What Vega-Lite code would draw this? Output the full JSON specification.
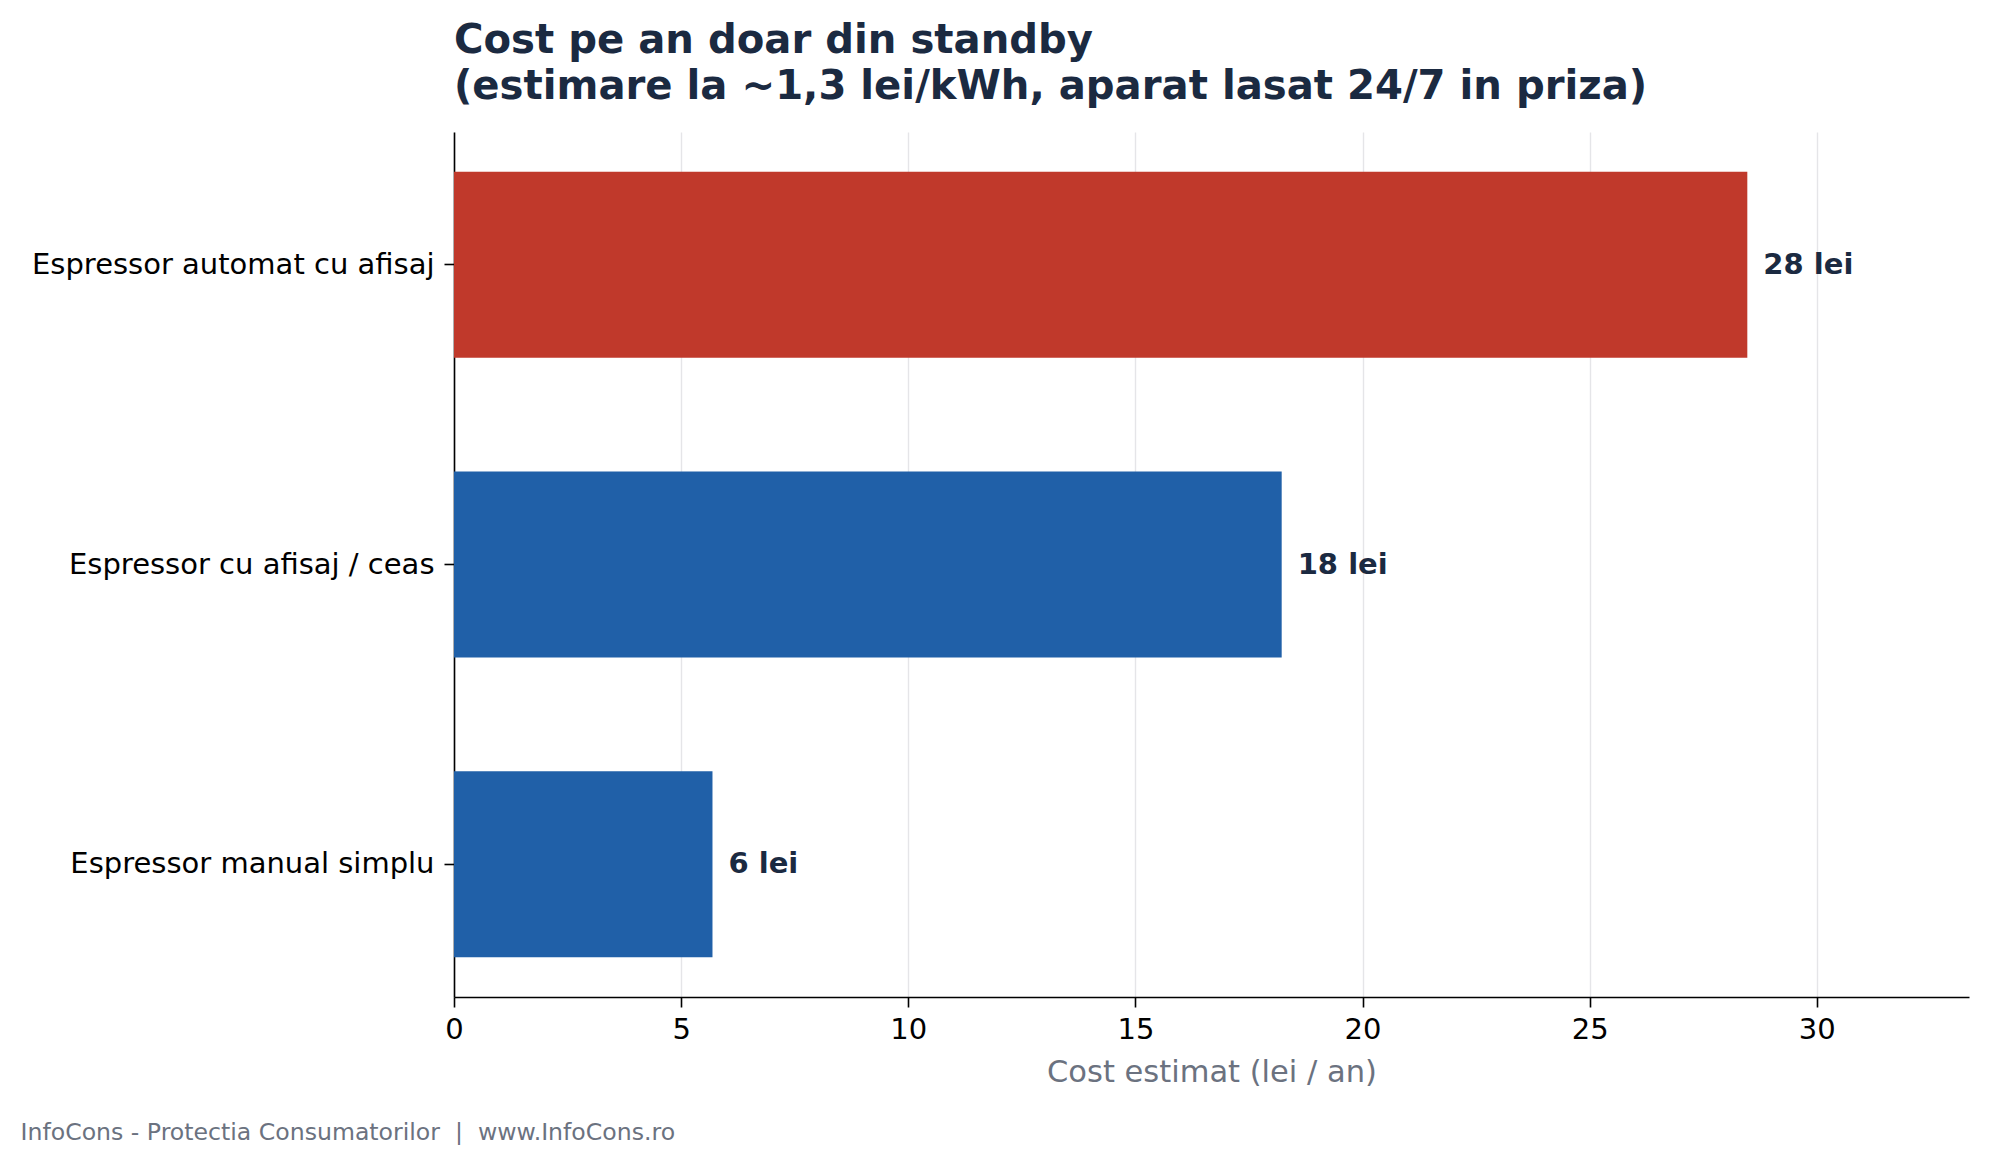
{
  "$schema": "https://vega.github.io/schema/vega-lite/v6.json",
  "background": "white",
  "padding": {"left": 20, "top": 20, "right": 10, "bottom": 10},
  "config": {
    "font": "DejaVu Sans",
    "view": {"stroke": null}
  },
  "title": {
    "text": "InfoCons - Protectia Consumatorilor \u00a0|\u00a0 www.InfoCons.ro",
    "orient": "bottom",
    "anchor": "start",
    "frame": "bounds",
    "fontSize": 23.6,
    "fontWeight": "normal",
    "color": "#6b7280",
    "offset": 33,
    "dx": -11
  },
  "vconcat": [
    {
      "width": 1515,
      "height": 865,
      "title": {
        "text": ["Cost pe an doar din standby", "(estimare la ~1,3 lei/kWh, aparat lasat 24/7 in priza)"],
        "anchor": "start",
        "frame": "group",
        "fontSize": 40.2,
        "fontWeight": "bold",
        "lineHeight": 46,
        "color": "#1b2a41",
        "offset": 25
      },
      "data": {
        "values": [
          {"aparat": "Espressor automat cu afisaj", "cost": 28.47, "eticheta": "28 lei"},
          {"aparat": "Espressor cu afisaj / ceas", "cost": 18.22, "eticheta": "18 lei"},
          {"aparat": "Espressor manual simplu", "cost": 5.69, "eticheta": "6 lei"}
        ]
      },
      "encoding": {
        "y": {
          "field": "aparat",
          "type": "nominal",
          "sort": null,
          "scale": {"paddingInner": 0.38, "paddingOuter": 0.133},
          "axis": {
            "title": null,
            "labelFontSize": 29,
            "labelColor": "black",
            "labelPadding": 10,
            "labelLimit": 700,
            "tickColor": "black",
            "tickSize": 10,
            "tickWidth": 1.6,
            "domainColor": "black",
            "domainWidth": 1.6,
            "grid": false
          }
        },
        "x": {
          "field": "cost",
          "type": "quantitative",
          "scale": {"domain": [0, 33.35], "nice": false},
          "axis": {
            "title": "Cost estimat (lei / an)",
            "titleFontSize": 30.5,
            "titleFontWeight": "normal",
            "titleColor": "#6b7280",
            "titlePadding": 13,
            "values": [0, 5, 10, 15, 20, 25, 30],
            "labelFontSize": 29,
            "labelColor": "black",
            "labelPadding": 8,
            "labelFlush": false,
            "tickColor": "black",
            "tickSize": 10,
            "tickWidth": 1.6,
            "domainColor": "black",
            "domainWidth": 1.6,
            "grid": true,
            "gridColor": "#e5e5e8",
            "gridWidth": 1.4
          }
        }
      },
      "layer": [
        {
          "mark": {"type": "bar"},
          "encoding": {
            "color": {
              "condition": {"test": "datum.aparat === 'Espressor automat cu afisaj'", "value": "#c0392b"},
              "value": "#2060a8"
            }
          }
        },
        {
          "mark": {
            "type": "text",
            "align": "left",
            "baseline": "middle",
            "dx": 16,
            "fontSize": 29,
            "fontWeight": "bold",
            "color": "#1b2a41"
          },
          "encoding": {
            "text": {"field": "eticheta"}
          }
        }
      ]
    }
  ]
}
